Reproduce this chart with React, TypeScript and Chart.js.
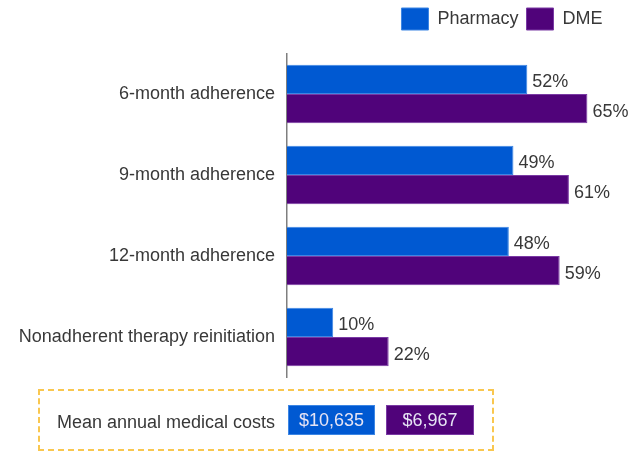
import React, { useEffect, useRef } from "react";
import { Chart, registerables } from "chart.js";

Chart.register(...registerables);

const categories = [
  "6-month adherence",
  "9-month adherence",
  "12-month adherence",
  "Nonadherent therapy reinitiation",
];
const seriesNames = ["Pharmacy", "DME"];
const pharmacyValues = [52, 49, 48, 10];
const dmeValues = [65, 61, 59, 22];
const seriesColors = ["#0059D2", "#50037A"];
const seriesBorders = ["#3C86E4", "#7A3AA4"];
const costLabel = "Mean annual medical costs";
const costValues = ["$10,635", "$6,967"];

const FONT = "'Liberation Sans', Arial, sans-serif";
const TEXT = "#383838";

const valueLabels = {
  id: "valueLabels",
  afterDatasetsDraw(chart: any) {
    const ctx = chart.ctx;
    ctx.save();
    ctx.font = `18px ${FONT}`;
    ctx.fillStyle = TEXT;
    ctx.textAlign = "left";
    ctx.textBaseline = "middle";
    chart.data.datasets.forEach((ds: any, di: number) => {
      const meta = chart.getDatasetMeta(di);
      meta.data.forEach((bar: any, i: number) => {
        ctx.fillText(`${ds.data[i]}%`, bar.x + 5, bar.y + 3);
      });
    });
    ctx.restore();
  },
};

export default function App() {
  const ref = useRef<HTMLCanvasElement | null>(null);
  useEffect(() => {
    if (!ref.current) return;
    const chart = new Chart(ref.current, {
      type: "bar",
      data: {
        labels: categories,
        datasets: [
          {
            label: seriesNames[0],
            data: pharmacyValues,
            backgroundColor: seriesColors[0],
            borderColor: seriesBorders[0],
            borderWidth: 1,
          },
          {
            label: seriesNames[1],
            data: dmeValues,
            backgroundColor: seriesColors[1],
            borderColor: seriesBorders[1],
            borderWidth: 1,
          },
        ],
      },
      options: {
        indexAxis: "y",
        animation: false,
        responsive: false,
        maintainAspectRatio: false,
        datasets: { bar: { barPercentage: 1, categoryPercentage: 0.72 } },
        layout: { padding: { left: 0, right: 27.5, top: 0, bottom: 73.5 } },
        plugins: {
          tooltip: { enabled: false },
          legend: {
            position: "top",
            align: "end",
            labels: {
              boxWidth: 27,
              boxHeight: 22,
              padding: 8,
              color: TEXT,
              font: { size: 18, family: FONT },
            },
          },
        },
        scales: {
          x: {
            display: true,
            position: "top",
            min: 0,
            max: 70,
            grid: { display: false },
            border: { display: false },
            ticks: { display: false },
            afterFit(scale: any) {
              scale.height = 13.5;
            },
          },
          y: {
            grid: { display: false },
            border: { display: true, color: "#7f7f7f", width: 1.5 },
            ticks: {
              color: TEXT,
              padding: 4,
              font: { size: 18, family: FONT },
            },
            afterFit(scale: any) {
              scale.width = 287;
            },
          },
        },
      },
      plugins: [valueLabels],
    });
    return () => chart.destroy();
  }, []);

  return (
    <div style={{ position: "fixed", left: 0, top: 0, width: 638, height: 451, background: "#fff", fontFamily: FONT }}>
      <canvas ref={ref} width={638} height={451} style={{ position: "absolute", left: 0, top: 0 }} />
      <div
        style={{
          position: "absolute",
          left: 38,
          top: 389,
          width: 456,
          height: 62,
          border: "2px dashed #F9C74F",
          boxSizing: "border-box",
        }}
      />
      <div style={{ position: "absolute", left: 57, top: 410, fontSize: 18, color: TEXT, lineHeight: "24px" }}>{costLabel}</div>
      {costValues.map((v, i) => (
        <div
          key={i}
          style={{
            position: "absolute",
            left: i === 0 ? 288 : 386,
            top: 405,
            width: i === 0 ? 87 : 88,
            height: 30,
            background: seriesColors[i],
            border: `1px solid ${seriesBorders[i]}`,
            boxSizing: "border-box",
            color: "#E6E4F4",
            fontSize: 18,
            lineHeight: "28px",
            textAlign: "center",
          }}
        >
          {v}
        </div>
      ))}
    </div>
  );
}
